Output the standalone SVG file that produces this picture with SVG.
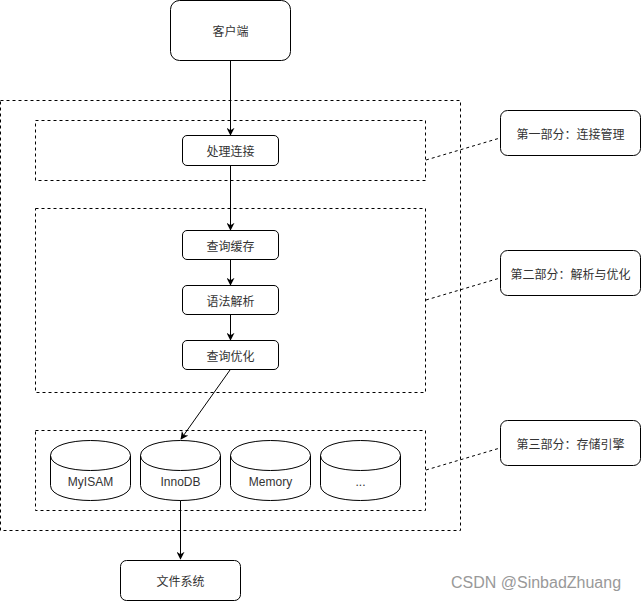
<svg xmlns="http://www.w3.org/2000/svg" width="641" height="601" viewBox="0 0 641 601">
<defs>
<style>
.box{fill:#fff;stroke:#000;stroke-width:1}
.dash{fill:none;stroke:#000;stroke-width:1;stroke-dasharray:3 3}
.t{font-family:"Noto Sans CJK SC","Liberation Sans",sans-serif;font-size:12px;fill:#333;text-anchor:middle;dominant-baseline:central}
.e{font-family:"Liberation Sans","Noto Sans CJK SC",sans-serif;font-size:12px;fill:#333;text-anchor:middle;dominant-baseline:central}
.c{fill:none;stroke:#000;stroke-width:1}
</style>
<marker id="arr" viewBox="0 0 10 10" refX="9" refY="5" markerWidth="8" markerHeight="8" markerUnits="userSpaceOnUse" orient="auto">
<path d="M0,0 L10,5 L0,10 L3,5 Z" fill="#000"/>
</marker>
</defs>
<rect width="641" height="601" fill="#fff"/>
<g id="regions">
<rect class="dash" x="0.5" y="100.5" width="460" height="430"/>
<rect class="dash" x="35.5" y="120.5" width="390" height="60"/>
<rect class="dash" x="35.5" y="208.5" width="390" height="184"/>
<rect class="dash" x="35.5" y="430.5" width="390" height="80"/>
</g>
<g id="connectors">
<line class="c" x1="230.5" y1="60" x2="230.5" y2="135" marker-end="url(#arr)"/>
<line class="c" x1="230.5" y1="166" x2="230.5" y2="230" marker-end="url(#arr)"/>
<line class="c" x1="230.5" y1="260" x2="230.5" y2="285" marker-end="url(#arr)"/>
<line class="c" x1="230.5" y1="315" x2="230.5" y2="340" marker-end="url(#arr)"/>
<line class="c" x1="230" y1="370" x2="181" y2="439" marker-end="url(#arr)"/>
<line class="c" x1="180.5" y1="500" x2="180.5" y2="559" marker-end="url(#arr)"/>
<line class="dash" x1="426" y1="160" x2="500" y2="138"/>
<line class="dash" x1="426" y1="300" x2="500" y2="278"/>
<line class="dash" x1="426" y1="470" x2="500" y2="448"/>
</g>
<g id="client"><rect class="box" x="170.5" y="0.5" width="120" height="60" rx="9"/><text class="t" x="230.5" y="30.5">客户端</text></g>
<g id="conn"><rect class="box" x="182.5" y="135.5" width="96" height="30" rx="4.5"/><text class="t" x="230.5" y="150.5">处理连接</text></g>
<g id="cache"><rect class="box" x="182.5" y="230.5" width="96" height="29" rx="4.5"/><text class="t" x="230.5" y="245">查询缓存</text></g>
<g id="parse"><rect class="box" x="182.5" y="285.5" width="96" height="29" rx="4.5"/><text class="t" x="230.5" y="300">语法解析</text></g>
<g id="opt"><rect class="box" x="182.5" y="340.5" width="96" height="29" rx="4.5"/><text class="t" x="230.5" y="355">查询优化</text></g>
<g id="myisam"><path class="box" d="M50.5,455.5 C50.5,435.5 130.5,435.5 130.5,455.5 L130.5,485.5 C130.5,505.5 50.5,505.5 50.5,485.5 Z"/><path class="c" d="M50.5,455.5 C50.5,475.5 130.5,475.5 130.5,455.5"/><text class="e" x="90.5" y="482">MyISAM</text></g>
<g id="innodb"><path class="box" d="M140.5,455.5 C140.5,435.5 220.5,435.5 220.5,455.5 L220.5,485.5 C220.5,505.5 140.5,505.5 140.5,485.5 Z"/><path class="c" d="M140.5,455.5 C140.5,475.5 220.5,475.5 220.5,455.5"/><text class="e" x="180.5" y="482">InnoDB</text></g>
<g id="memory"><path class="box" d="M230.5,455.5 C230.5,435.5 310.5,435.5 310.5,455.5 L310.5,485.5 C310.5,505.5 230.5,505.5 230.5,485.5 Z"/><path class="c" d="M230.5,455.5 C230.5,475.5 310.5,475.5 310.5,455.5"/><text class="e" x="270.5" y="482">Memory</text></g>
<g id="other"><path class="box" d="M320.5,455.5 C320.5,435.5 400.5,435.5 400.5,455.5 L400.5,485.5 C400.5,505.5 320.5,505.5 320.5,485.5 Z"/><path class="c" d="M320.5,455.5 C320.5,475.5 400.5,475.5 400.5,455.5"/><text class="e" x="360.5" y="482">...</text></g>
<g id="fs"><rect class="box" x="120.5" y="560.5" width="120" height="40" rx="6"/><text class="t" x="180.5" y="580.5">文件系统</text></g>
<g id="note1"><rect class="box" x="500.5" y="110.5" width="140" height="45" rx="7"/><text class="t" x="570.5" y="133">第一部分：连接管理</text></g>
<g id="note2"><rect class="box" x="500.5" y="250.5" width="140" height="45" rx="7"/><text class="t" x="570.5" y="273">第二部分：解析与优化</text></g>
<g id="note3"><rect class="box" x="500.5" y="420.5" width="140" height="45" rx="7"/><text class="t" x="570.5" y="443">第三部分：存储引擎</text></g>
<text x="536" y="588" font-family="'Liberation Sans',sans-serif" font-size="16" fill="#999" text-anchor="middle">CSDN @SinbadZhuang</text>
</svg>
